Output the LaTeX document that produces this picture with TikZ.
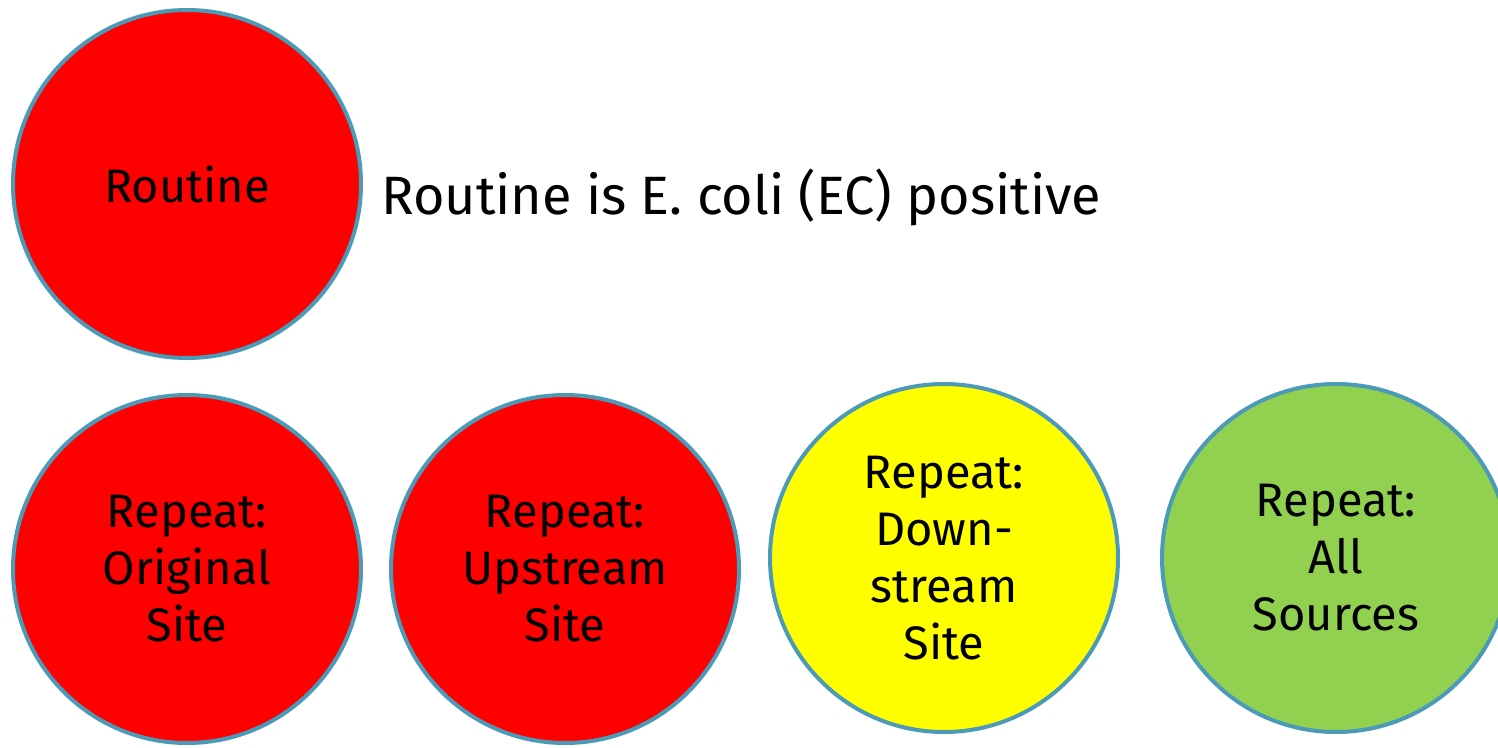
\documentclass[tikz,border=0pt]{standalone}
\usepackage{fontspec}
\setmainfont{Fira Sans}
\definecolor{rimblue}{HTML}{4B9BB8}
\definecolor{leafgreen}{HTML}{92D050}
\definecolor{sunyellow}{HTML}{FFFF00}

\begin{document}
\begin{tikzpicture}[x=1pt, y=-1pt,
    site/.style={circle, draw=rimblue, line width=4pt, minimum size=348pt, inner sep=0pt, align=center, font=\fontsize{47}{57}\selectfont}]
    \useasboundingbox (0,0) rectangle (1498,747);

    \node (routine) at (187,184) [site, fill=red] {Routine};
    \node (note) at (381,197) [anchor=west, inner sep=0pt, font=\fontsize{54}{60}\selectfont] {Routine is E. coli (EC) positive};

    \node (orig) at (187,569) [site, fill=red] {Repeat:\\Original\\Site};
    \node (up)   at (565,569) [site, fill=red] {Repeat:\\Upstream\\Site};
    \node (down) at (944,558) [site, fill=sunyellow] {Repeat:\\Down-\\stream\\Site};
    \node (all)  at (1336,558) [site, fill=leafgreen] {Repeat:\\All\\Sources};

\end{tikzpicture}
\end{document}
